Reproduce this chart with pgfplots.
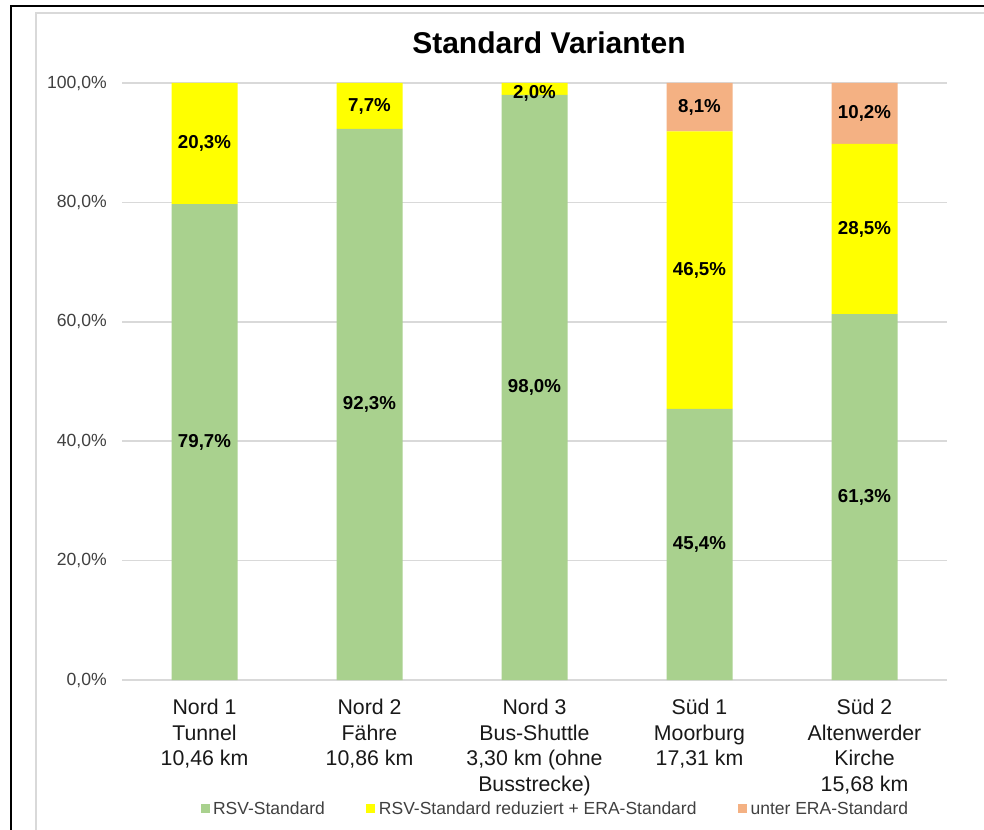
\documentclass[border=0pt]{standalone}
\usepackage{fontspec}
\setmainfont{Liberation Sans}
\usepackage{pgfplots}
\pgfplotsset{compat=1.18}
\definecolor{cgreen}{HTML}{A9D18E}
\definecolor{cyellow}{HTML}{FFFF00}
\definecolor{corange}{HTML}{F4B183}
\definecolor{cgrid}{HTML}{D9D9D9}
\definecolor{ctick}{HTML}{404040}
\begin{document}
\begin{tikzpicture}[x=1pt,y=1pt]
\useasboundingbox (0,0) rectangle (984,829);
\clip (0,0) rectangle (984,829);
\fill[white] (0,0) rectangle (984,829);
\draw[cgrid, line width=1.5pt] (36,-10) -- (36,816) -- (1000,816);
\draw[black, line width=2pt] (11,-10) -- (11,823) -- (1000,823);
\node[font=\fontsize{30}{36}\selectfont\bfseries] at (549,786) {Standard Varianten};
\begin{axis}[
  at={(122pt,149pt)}, anchor=south west,
  scale only axis, width=825pt, height=597pt,
  xmin=-0.5, xmax=4.5, ymin=0, ymax=100,
  ybar stacked, bar width=66pt,
  axis line style={draw=none},
  major tick length=0pt,
  ymajorgrids, grid style={cgrid, line width=1.5pt},
  ytick={0,20,40,60,80,100},
  yticklabels={{0,0\%},{20,0\%},{40,0\%},{60,0\%},{80,0\%},{100,0\%}},
  yticklabel style={font=\fontsize{17.6}{21}\selectfont, text=ctick, inner sep=0pt, xshift=-15pt},
  xtick={0,1,2,3,4},
  xticklabels={{Nord 1\\Tunnel\\10,46 km},{Nord 2\\Fähre\\10,86 km},{Nord 3\\Bus-Shuttle\\3,30 km (ohne\\Busstrecke)},{Süd 1\\Moorburg\\17,31 km},{Süd 2\\Altenwerder\\Kirche\\15,68 km}},
  xticklabel style={font=\fontsize{21.3}{25.5}\selectfont, align=center, inner sep=0pt, yshift=-19pt, text=black!90},
  legend columns=3,
  legend style={at={(0.525,-0.216)}, anchor=center, draw=none, fill=none,
    font=\fontsize{17.5}{20}\selectfont, text=ctick,
    nodes={inner sep=0pt, inner xsep=1.5pt},
    /tikz/every odd column/.append style={column sep=2pt},
    /tikz/every even column/.append style={column sep=40pt}},
  legend image code/.code={\fill[#1] (0pt,-4.5pt) rectangle (9pt,4.5pt);},
]
\addplot[fill=cgreen, draw=none] coordinates {(0,79.7) (1,92.3) (2,98.0) (3,45.4) (4,61.3)};
\addplot[fill=cyellow, draw=none] coordinates {(0,20.3) (1,7.7) (2,2.0) (3,46.5) (4,28.5)};
\addplot[fill=corange, draw=none] coordinates {(0,0) (1,0) (2,0) (3,8.1) (4,10.2)};
\legend{RSV-Standard, RSV-Standard reduziert + ERA-Standard, unter ERA-Standard}
\end{axis}
\begin{axis}[
  at={(122pt,149pt)}, anchor=south west,
  scale only axis, width=825pt, height=597pt,
  xmin=-0.5, xmax=4.5, ymin=0, ymax=100,
  hide axis, clip=false,
  /pgf/number format/.cd, use comma, fixed, fixed zerofill, precision=1, assume math mode=true,
]
\addplot[only marks, mark=none, point meta=explicit,
  nodes near coords={\pgfmathprintnumber{\pgfplotspointmeta}\%},
  nodes near coords style={font=\fontsize{18.7}{22}\selectfont\bfseries, anchor=center, text=black}]
  coordinates {
  (0,39.85) [79.7] (0,89.85) [20.3]
  (1,46.15) [92.3] (1,96.15) [7.7]
  (2,49.0) [98.0] (2,98.3) [2.0]
  (3,22.7) [45.4] (3,68.65) [46.5] (3,95.95) [8.1]
  (4,30.65) [61.3] (4,75.55) [28.5] (4,94.9) [10.2]
  };
\end{axis}
\end{tikzpicture}
\end{document}
